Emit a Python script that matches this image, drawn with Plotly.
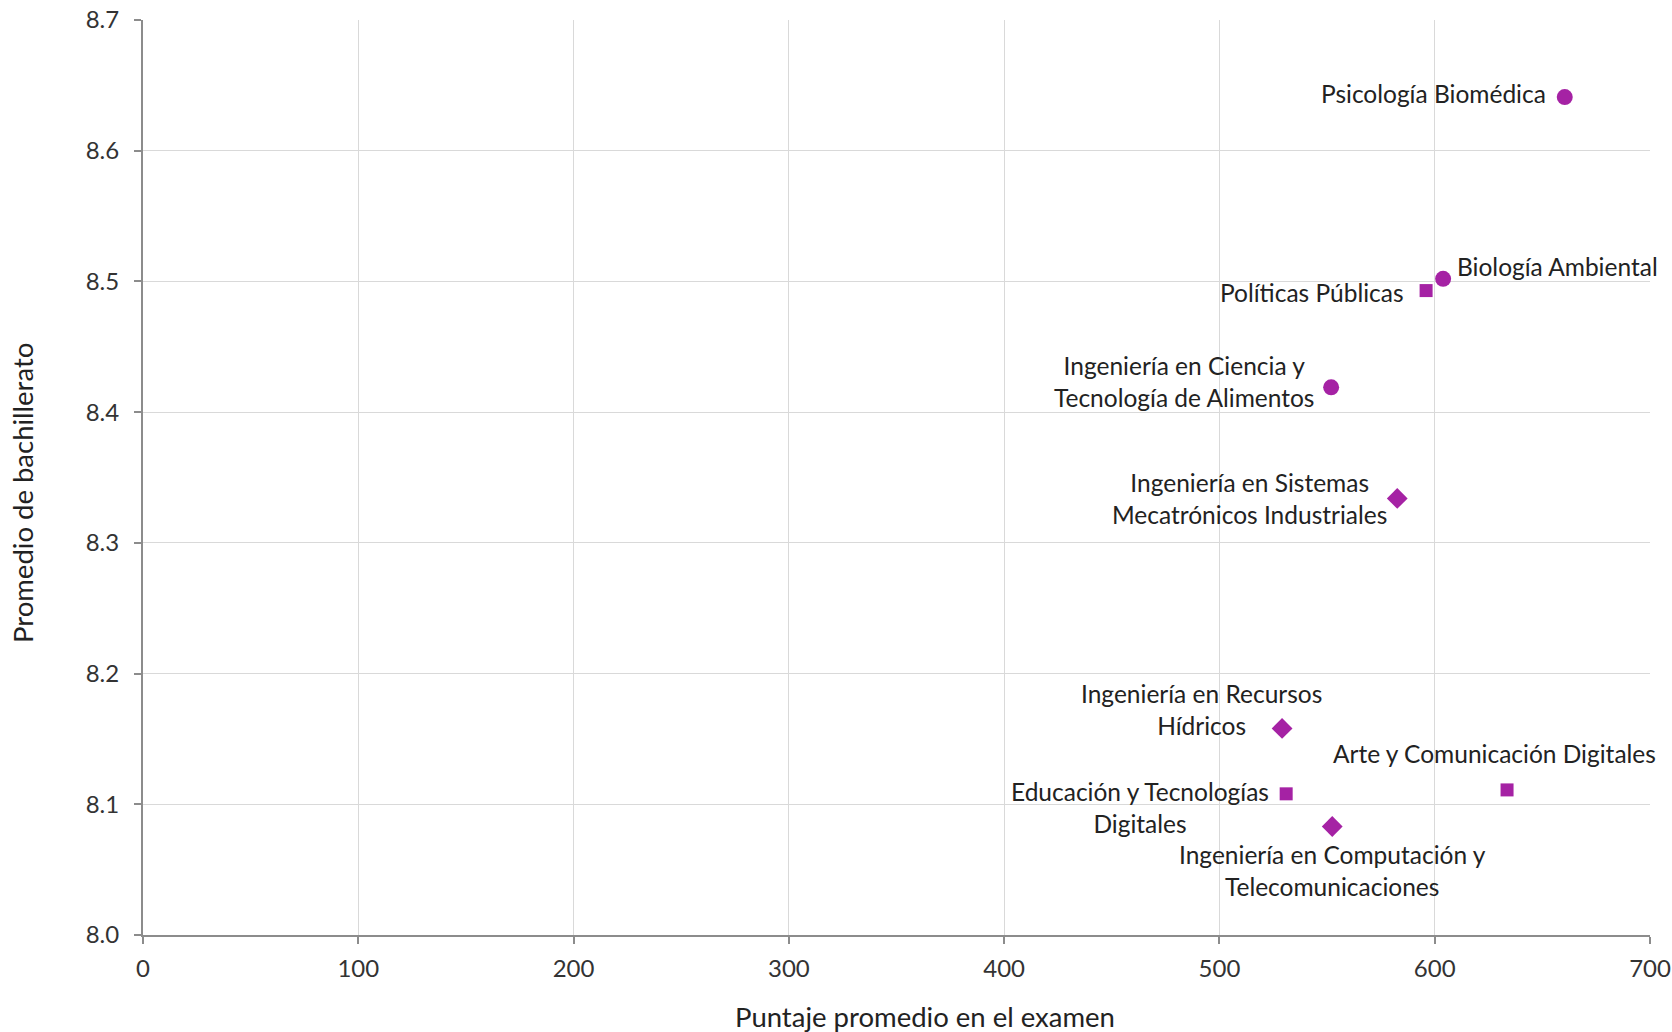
import plotly.graph_objects as go

# Data
programs = [
    "Psicología Biomédica",
    "Biología Ambiental",
    "Políticas Públicas",
    "Ingeniería en Ciencia y<br>Tecnología de Alimentos",
    "Ingeniería en Sistemas<br>Mecatrónicos Industriales",
    "Ingeniería en Recursos<br>Hídricos",
    "Educación y Tecnologías<br>Digitales",
    "Arte y Comunicación Digitales",
    "Ingeniería en Computación y<br>Telecomunicaciones",
]
exam_score = [660.4, 603.9, 596.0, 551.9, 582.6, 529.1, 531.0, 633.6, 552.4]
hs_average = [8.641, 8.502, 8.493, 8.419, 8.334, 8.158, 8.108, 8.111, 8.083]
marker_kind = ["circle", "circle", "square", "circle", "diamond", "diamond", "square", "square", "diamond"]
x_title = "Puntaje promedio en el examen"
y_title = "Promedio de bachillerato"

# label placement (style): xanchor, yanchor, xshift, yshift, align
label_style = [
    ("right", "middle", -17, 4, "right"),
    ("left", "middle", 12, 12, "left"),
    ("right", "middle", -20, -2, "right"),
    ("right", "middle", -15, 6, "center"),
    ("right", "middle", -8, 0, "center"),
    ("center", "bottom", -81, -14, "center"),
    ("right", "top", -15, 19, "center"),
    ("center", "bottom", -13, 20, "center"),
    ("center", "top", 0, -11, "center"),
]

COLOR = "#A522A4"
FONT = "Lato, 'Liberation Sans', sans-serif"

fig = go.Figure()
sizes = {"circle": 16, "square": 13, "diamond": 16}
fig.add_trace(go.Scatter(
    x=exam_score, y=hs_average, mode="markers",
    marker=dict(symbol=marker_kind, color=COLOR, opacity=1,
                size=[sizes[k] for k in marker_kind], line=dict(width=0)),
    hovertext=programs, hoverinfo="text", showlegend=False,
))

for xv, yv, txt, (xa, ya, xs, ys, al) in zip(exam_score, hs_average, programs, label_style):
    fig.add_annotation(x=xv, y=yv, text=txt, showarrow=False,
                       xanchor=xa, yanchor=ya, xshift=xs, yshift=ys, align=al,
                       font=dict(family=FONT, size=24.5, color="#222222"))

# axis titles
fig.add_annotation(xref="paper", yref="paper", x=0.519, y=0, yshift=-81,
                   xanchor="center", yanchor="middle", showarrow=False,
                   text=x_title, font=dict(family=FONT, size=27.5, color="#222222"))
fig.add_annotation(xref="paper", yref="paper", x=0, y=0.483, xshift=-121,
                   xanchor="center", yanchor="middle", showarrow=False, textangle=-90,
                   text=y_title, font=dict(family=FONT, size=27.5, color="#222222"))

fig.update_layout(
    width=1672, height=1032,
    margin=dict(l=143, r=22, t=20, b=97, autoexpand=False),
    paper_bgcolor="white", plot_bgcolor="white",
    font=dict(family=FONT, color="#333333"),
)
fig.update_xaxes(
    range=[0, 700], dtick=100, tick0=0, automargin=False,
    showgrid=True, gridcolor="#D9D9D9", gridwidth=1,
    showline=True, linecolor="#8C8C8C", linewidth=2,
    ticks="outside", ticklen=7, tickcolor="#8C8C8C", tickwidth=2,
    tickfont=dict(size=24, color="#333333"), ticklabelstandoff=4,
    ticklabeloverflow="allow", zeroline=False,
)
fig.update_yaxes(
    range=[8.0, 8.7], dtick=0.1, tick0=8.0, tickformat=".1f", automargin=False,
    showgrid=True, gridcolor="#D9D9D9", gridwidth=1,
    showline=True, linecolor="#8C8C8C", linewidth=2,
    ticks="outside", ticklen=7, tickcolor="#8C8C8C", tickwidth=2,
    tickfont=dict(size=24, color="#333333"), ticklabelstandoff=10,
    ticklabeloverflow="allow", zeroline=False,
)

# remove the default 8px page margin so the figure fills the window exactly
fig.write_html("out.html", config={"displayModeBar": False},
               post_script="document.body.style.margin='0';document.body.style.overflow='hidden';")
